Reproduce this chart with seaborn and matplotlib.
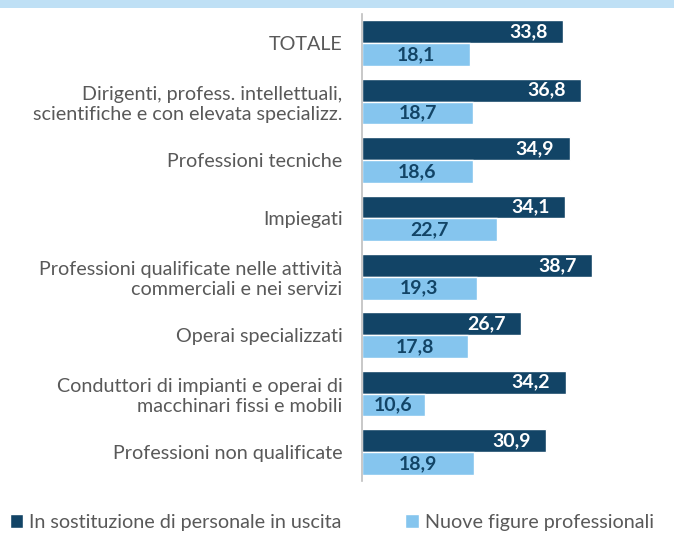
import numpy as np
import pandas as pd
import matplotlib
matplotlib.use("Agg")
import matplotlib.pyplot as plt
import seaborn as sns
from matplotlib.patches import Rectangle, Patch

categories = [
    "TOTALE",
    "Dirigenti, profess. intellettuali,\nscientifiche e con elevata specializz.",
    "Professioni tecniche",
    "Impiegati",
    "Professioni qualificate nelle attività\ncommerciali e nei servizi",
    "Operai specializzati",
    "Conduttori di impianti e operai di\nmacchinari fissi e mobili",
    "Professioni non qualificate",
]
series = ["In sostituzione di personale in uscita", "Nuove figure professionali"]
sostituzione = [33.8, 36.8, 34.9, 34.1, 38.7, 26.7, 34.2, 30.9]
nuove = [18.1, 18.7, 18.6, 22.7, 19.3, 17.8, 10.6, 18.9]

dark = "#124466"
light = "#85c5ee"
grey = "#595959"

df = pd.DataFrame({
    "cat": categories * 2,
    "serie": [series[0]] * len(categories) + [series[1]] * len(categories),
    "val": sostituzione + nuove,
})

sns.set_style("white")
plt.rcParams["font.family"] = ["Lato", "DejaVu Sans"]

fig = plt.figure(figsize=(6.74, 5.37), dpi=100)
ax = fig.add_axes([0.537, 0.104, 0.463, 0.87])

sns.barplot(data=df, y="cat", x="val", hue="serie", order=categories,
            hue_order=series, palette=[dark, light], width=0.78,
            saturation=1, legend=False, ax=ax)

ax.set_xlim(0, 52.4)
ax.set_ylim(len(categories) - 0.5, -0.5)
ax.set_xlabel("")
ax.set_ylabel("")
ax.set_xticks([])
for s in ["top", "right", "bottom"]:
    ax.spines[s].set_visible(False)
ax.spines["left"].set_color("#bfbfbf")
ax.spines["left"].set_linewidth(1.2)
ax.tick_params(axis="y", length=0, pad=14, labelsize=14.2, labelcolor=grey)
ax.set_yticks(np.arange(-0.5, len(categories), 1), minor=True)
ax.tick_params(axis="y", which="minor", length=5, color="#bfbfbf", width=1.2)

# value labels
for bars, kind in zip(ax.containers, ["dark", "light"]):
    for b in bars:
        w = b.get_width()
        yc = b.get_y() + b.get_height() / 2
        if kind == "dark":
            ax.text(w - 2.6, yc, f"{w:.1f}".replace(".", ","), ha="right", va="center",
                    color="white", fontsize=14, fontweight="bold")
        else:
            ax.text(w / 2, yc, f"{w:.1f}".replace(".", ","), ha="center", va="center",
                    color=dark, fontsize=14, fontweight="bold")

# top strip
fig.patches.append(Rectangle((0, 0.986), 1, 0.014, transform=fig.transFigure,
                             facecolor="#bfe0f5", edgecolor="none"))

handles = [Patch(facecolor=dark), Patch(facecolor=light)]
fig.legend(handles, series, loc="lower left", bbox_to_anchor=(-0.012, -0.022),
           ncol=2, frameon=False, fontsize=14.2, labelcolor=grey,
           handlelength=0.7, handleheight=0.7, handletextpad=0.3,
           columnspacing=3.2)

fig.savefig("out.png", dpi=100)
